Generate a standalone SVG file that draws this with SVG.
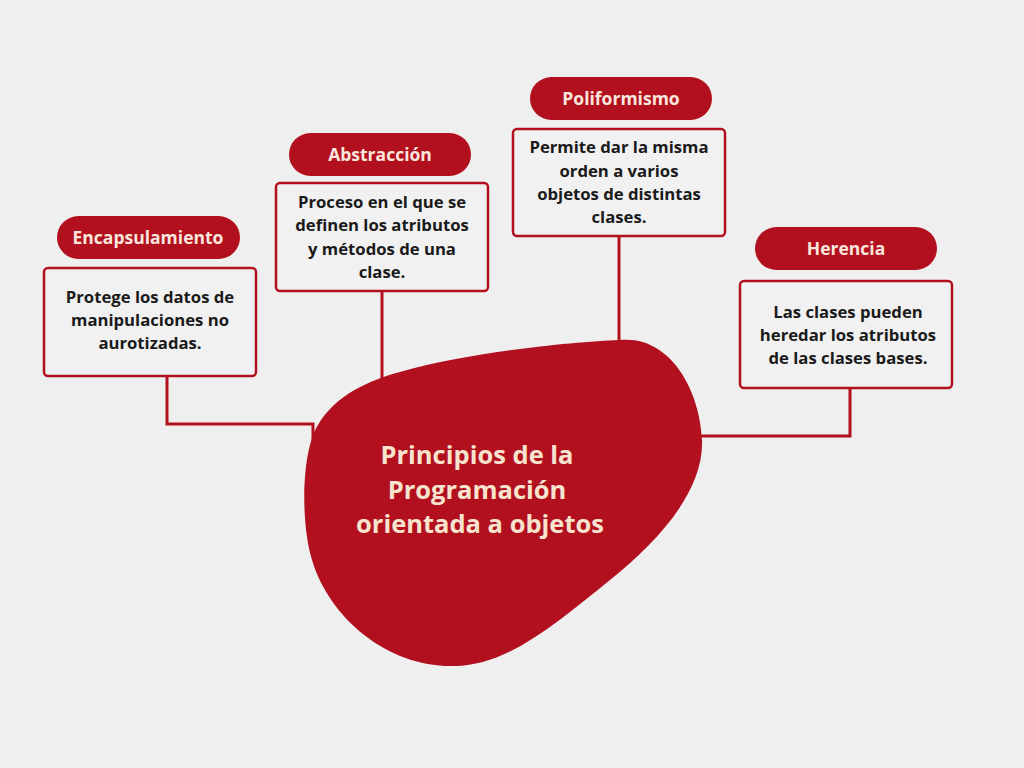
<svg xmlns="http://www.w3.org/2000/svg" width="1024" height="768" viewBox="0 0 1024 768">
<style>
.pill{fill:#b3101f}
.pt{font-family:"Open Sans","Liberation Sans",sans-serif;font-weight:700;font-size:17.5px;fill:#f9e6dc;text-anchor:middle}
.box{fill:#f1f1f1;stroke:#b3101f;stroke-width:2.5}
.bt{font-family:"Open Sans","Liberation Sans",sans-serif;font-weight:700;font-size:16.7px;fill:#1a1a1a;text-anchor:middle}
.ct{font-family:"Open Sans","Liberation Sans",sans-serif;font-weight:700;font-size:25.5px;fill:#f7e4cf;text-anchor:middle}
.conn{fill:none;stroke:#b3101f;stroke-width:3}
</style>
<rect width="1024" height="768" fill="#efefef"/>
<g id="connectors">
<path class="conn" d="M167,376 V424 H313 V445"/>
<path class="conn" d="M382,291 V385"/>
<path class="conn" d="M619,236 V345"/>
<path class="conn" d="M850,388 V436 H698"/>
</g>
<g id="center">
<path fill="#b3101f" d="M620,340 C670,335 700,390 702,440 C704,490 660,540 610,580 C560,620 510,665 455,666 C390,668 330,620 312,560 C300,520 302,450 318,425 C335,395 370,380 400,372 C470,352 570,342 620,340 Z"/>
<text class="ct" x="477" y="464">Principios de la</text>
<text class="ct" x="477" y="499">Programación</text>
<text class="ct" x="480" y="533">orientada a objetos</text>
</g>
<g id="encapsulamiento">
<rect class="pill" x="57" y="216" width="183" height="43" rx="21.5"/>
<text class="pt" x="148" y="244">Encapsulamiento</text>
<rect class="box" x="44" y="268" width="212" height="108" rx="4"/>
<text class="bt" x="150" y="303">Protege los datos de</text>
<text class="bt" x="150" y="326">manipulaciones no</text>
<text class="bt" x="150" y="349">aurotizadas.</text>
</g>
<g id="abstraccion">
<rect class="pill" x="289" y="133" width="182" height="43" rx="21.5"/>
<text class="pt" x="380" y="161">Abstracción</text>
<rect class="box" x="276" y="183" width="212" height="108" rx="4"/>
<text class="bt" x="382" y="208">Proceso en el que se</text>
<text class="bt" x="382" y="231">definen los atributos</text>
<text class="bt" x="382" y="255">y métodos de una</text>
<text class="bt" x="382" y="278">clase.</text>
</g>
<g id="poliformismo">
<rect class="pill" x="530" y="77" width="182" height="43" rx="21.5"/>
<text class="pt" x="621" y="105">Poliformismo</text>
<rect class="box" x="513" y="129" width="212" height="107" rx="4"/>
<text class="bt" x="619" y="153">Permite dar la misma</text>
<text class="bt" x="619" y="177">orden a varios</text>
<text class="bt" x="619" y="200">objetos de distintas</text>
<text class="bt" x="619" y="223">clases.</text>
</g>
<g id="herencia">
<rect class="pill" x="755" y="227" width="182" height="43" rx="21.5"/>
<text class="pt" x="846" y="255">Herencia</text>
<rect class="box" x="740" y="281" width="212" height="107" rx="4"/>
<text class="bt" x="848" y="318">Las clases pueden</text>
<text class="bt" x="848" y="341">heredar los atributos</text>
<text class="bt" x="848" y="364">de las clases bases.</text>
</g>
</svg>
